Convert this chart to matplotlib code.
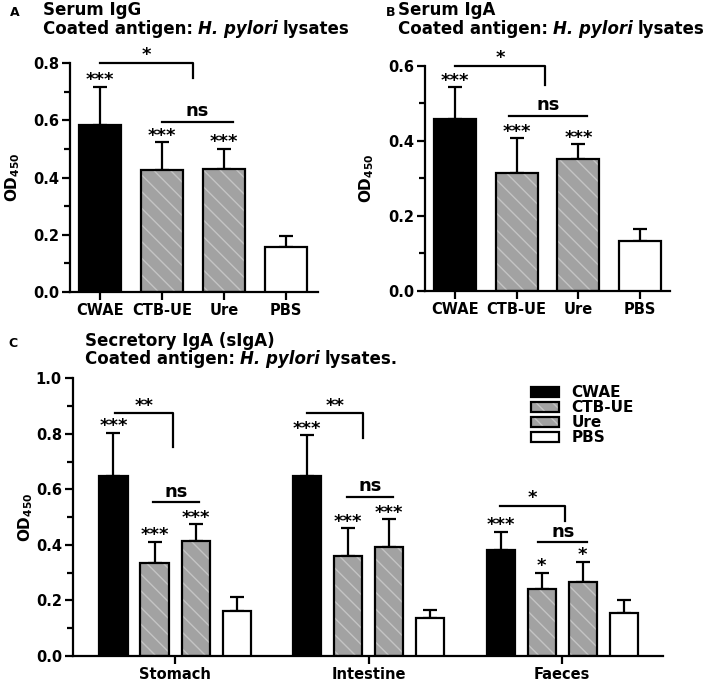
import numpy as np
import matplotlib
matplotlib.use('Agg')
import matplotlib.pyplot as plt
from matplotlib.patches import Patch
from matplotlib.ticker import MultipleLocator

# panel A / B groups
groups = ['CWAE', 'CTB-UE', 'Ure', 'PBS']
igg_mean = [0.585, 0.425, 0.428, 0.158]
igg_sd = [0.132, 0.099, 0.073, 0.039]
iga_mean = [0.457, 0.315, 0.350, 0.132]
iga_sd = [0.085, 0.091, 0.040, 0.032]
ab_stars = ['***', '***', '***', '']

# panel C
sites = ['Stomach', 'Intestine', 'Faeces']
cwae_siga = [0.649, 0.649, 0.382]
cwae_siga_sd = [0.155, 0.147, 0.066]
ctb_siga = [0.334, 0.360, 0.240]
ctb_siga_sd = [0.078, 0.100, 0.060]
ure_siga = [0.414, 0.394, 0.265]
ure_siga_sd = [0.060, 0.098, 0.075]
pbs_siga = [0.162, 0.138, 0.154]
pbs_siga_sd = [0.049, 0.028, 0.048]
cwae_stars = ['***', '***', '***']
ctb_stars = ['***', '***', '*']
ure_stars = ['***', '***', '*']

# brackets: (x0, x1, y, y_drop, label); lines: (x0, x1, y, label)
igg_bracket = (0.0, 1.5, 0.8, 0.748, '*')
igg_ns = (1.0, 2.15, 0.594, 'ns')
iga_bracket = (0.0, 1.46, 0.6, 0.548, '*')
iga_ns = (0.88, 2.14, 0.467, 'ns')
siga_brackets = [(-0.31, -0.01, 0.874, 0.754, '**'),
                 (-0.318, -0.028, 0.874, 0.785, '**'),
                 (-0.32, 0.015, 0.541, 0.487, '*')]
siga_ns = [(-0.114, 0.124, 0.553, 'ns'),
           (-0.111, 0.127, 0.574, 'ns'),
           (-0.124, 0.129, 0.41, 'ns')]

GRAY = '#a2a2a2'
HATCH_COL = '#c4c4c4'
LW = 1.6


def draw_bars(ax, x, h, err, kind, width, stars=None):
    x = np.asarray(x, dtype=float)
    if kind == 'solid':
        ax.bar(x, h, width, color='black', edgecolor='black', linewidth=LW, zorder=3)
    elif kind == 'hatch':
        ax.bar(x, h, width, color=GRAY, edgecolor=HATCH_COL, hatch='\\\\', linewidth=0, zorder=2)
        ax.bar(x, h, width, fill=False, edgecolor='black', linewidth=LW, zorder=3)
    else:
        ax.bar(x, h, width, color='white', edgecolor='black', linewidth=LW, zorder=3)
    ax.errorbar(x, h, yerr=[np.zeros(len(h)), err], fmt='none', ecolor='black',
                elinewidth=LW, capsize=5, capthick=LW, zorder=1)
    if stars:
        for xi, hi, ei, s in zip(x, h, err, stars):
            if s:
                ax.annotate(s, (xi, hi + ei), xytext=(0, 1), textcoords='offset points',
                            ha='center', va='baseline', fontsize=13, fontweight='bold',
                            annotation_clip=False)


def bracket(ax, b):
    x0, x1, y, yd, lab = b
    ax.plot([x0, x1, x1], [y, y, yd], color='black', lw=LW, clip_on=False, zorder=4)
    ax.annotate(lab, ((x0 + x1) / 2, y), xytext=(0, 2), textcoords='offset points',
                ha='center', va='baseline', fontsize=13, fontweight='bold', annotation_clip=False)


def ns_line(ax, b):
    x0, x1, y, lab = b
    ax.plot([x0, x1], [y, y], color='black', lw=LW, clip_on=False, zorder=4)
    ax.annotate(lab, ((x0 + x1) / 2, y), xytext=(0, 4), textcoords='offset points',
                ha='center', va='baseline', fontsize=13, fontweight='bold', annotation_clip=False)


def style_axis(ax, ymax, major):
    for s in ['top', 'right']:
        ax.spines[s].set_visible(False)
    for s in ['left', 'bottom']:
        ax.spines[s].set_linewidth(LW)
    ax.set_ylim(0, ymax)
    ax.yaxis.set_major_locator(MultipleLocator(major))
    ax.yaxis.set_minor_locator(MultipleLocator(major / 2))
    ax.yaxis.set_major_formatter(matplotlib.ticker.FormatStrFormatter('%.1f'))
    ax.tick_params(axis='both', which='major', direction='out', length=6, width=LW,
                   labelsize=10.5, pad=2)
    ax.tick_params(axis='y', which='minor', direction='out', length=4, width=LW)
    for lab in ax.get_xticklabels() + ax.get_yticklabels():
        lab.set_fontweight('bold')
    ax.set_ylabel(r'$\mathbf{OD_{450}}$', fontsize=11)


def rich_text(fig, x_px, y_px, parts, size=12):
    r = fig.canvas.get_renderer()
    W, H = fig.bbox.width, fig.bbox.height
    x = x_px
    for s, st in parts:
        t = fig.text(x / W, 1 - y_px / H, s, fontsize=size, fontweight='bold',
                     fontstyle=st, ha='left', va='baseline')
        bb = t.get_window_extent(renderer=r)
        x = bb.x1 + 5


fig = plt.figure(figsize=(7.14, 6.83), dpi=100)
W, H = 714, 683

ab_kinds = ['solid', 'hatch', 'hatch', 'open']

# panel A
axA = fig.add_axes([70 / W, 1 - 292 / H, 248 / W, 229 / H])
xs = np.arange(len(groups))
for i, k in enumerate(ab_kinds):
    draw_bars(axA, [xs[i]], [igg_mean[i]], [igg_sd[i]], k, 0.68, [ab_stars[i]])
axA.set_xlim(-0.48, 3.52)
axA.set_xticks(xs)
axA.set_xticklabels(groups)
style_axis(axA, 0.8, 0.2)
axA.yaxis.set_label_coords(-0.195, 0.5)
bracket(axA, igg_bracket)
ns_line(axA, igg_ns)

# panel B
axB = fig.add_axes([425 / W, 1 - 290.7 / H, 245 / W, 225 / H])
for i, k in enumerate(ab_kinds):
    draw_bars(axB, [xs[i]], [iga_mean[i]], [iga_sd[i]], k, 0.68, [ab_stars[i]])
axB.set_xlim(-0.48, 3.48)
axB.set_xticks(xs)
axB.set_xticklabels(groups)
style_axis(axB, 0.6, 0.2)
axB.yaxis.set_label_coords(-0.2, 0.5)
bracket(axB, iga_bracket)
ns_line(axB, iga_ns)

# panel C
axC = fig.add_axes([73 / W, 1 - 656 / H, 590 / W, 277.7 / H])
xc = np.arange(len(sites))
off = 0.212
wc = 0.145
draw_bars(axC, xc - 1.5 * off, cwae_siga, cwae_siga_sd, 'solid', wc, cwae_stars)
draw_bars(axC, xc - 0.5 * off, ctb_siga, ctb_siga_sd, 'hatch', wc, ctb_stars)
draw_bars(axC, xc + 0.5 * off, ure_siga, ure_siga_sd, 'hatch', wc, ure_stars)
draw_bars(axC, xc + 1.5 * off, pbs_siga, pbs_siga_sd, 'open', wc)
axC.set_xlim(-0.527, 2.52)
axC.set_xticks(xc)
axC.set_xticklabels(sites)
style_axis(axC, 1.0, 0.2)
axC.yaxis.set_label_coords(-0.065, 0.5)
for i in range(len(sites)):
    x0, x1, y, yd, lab = siga_brackets[i]
    bracket(axC, (x0 + i, x1 + i, y, yd, lab))
    x0, x1, y, lab = siga_ns[i]
    ns_line(axC, (x0 + i, x1 + i, y, lab))

hatch_h = (Patch(facecolor=GRAY, edgecolor=HATCH_COL, hatch='\\\\', linewidth=0),
           Patch(fill=False, edgecolor='black', linewidth=LW))
handles = [Patch(facecolor='black', edgecolor='black', linewidth=LW), hatch_h, hatch_h,
           Patch(facecolor='white', edgecolor='black', linewidth=LW)]
fig.legend(handles, groups, loc='upper left', bbox_to_anchor=(531 / W, 1 - 385 / H),
           frameon=False, prop={'weight': 'bold', 'size': 11}, borderpad=0,
           borderaxespad=0, labelspacing=0.0, handlelength=1.8, handleheight=0.65,
           handletextpad=0.85)

# titles
fig.text(10 / W, 1 - 16 / H, 'A', fontsize=9, fontweight='bold', va='baseline')
rich_text(fig, 43, 15, [('Serum IgG', 'normal')])
rich_text(fig, 43, 33.5, [('Coated antigen:', 'normal'), ('H. pylori', 'italic'), ('lysates', 'normal')])
fig.text(386 / W, 1 - 16 / H, 'B', fontsize=9, fontweight='bold', va='baseline')
rich_text(fig, 398, 15, [('Serum IgA', 'normal')])
rich_text(fig, 398, 33.5, [('Coated antigen:', 'normal'), ('H. pylori', 'italic'), ('lysates', 'normal')])
fig.text(8 / W, 1 - 347 / H, 'C', fontsize=9, fontweight='bold', va='baseline')
rich_text(fig, 85, 345.5, [('Secretory IgA (sIgA)', 'normal')])
rich_text(fig, 85, 364, [('Coated antigen:', 'normal'), ('H. pylori', 'italic'), ('lysates.', 'normal')])

fig.savefig('out.png', dpi=100)
